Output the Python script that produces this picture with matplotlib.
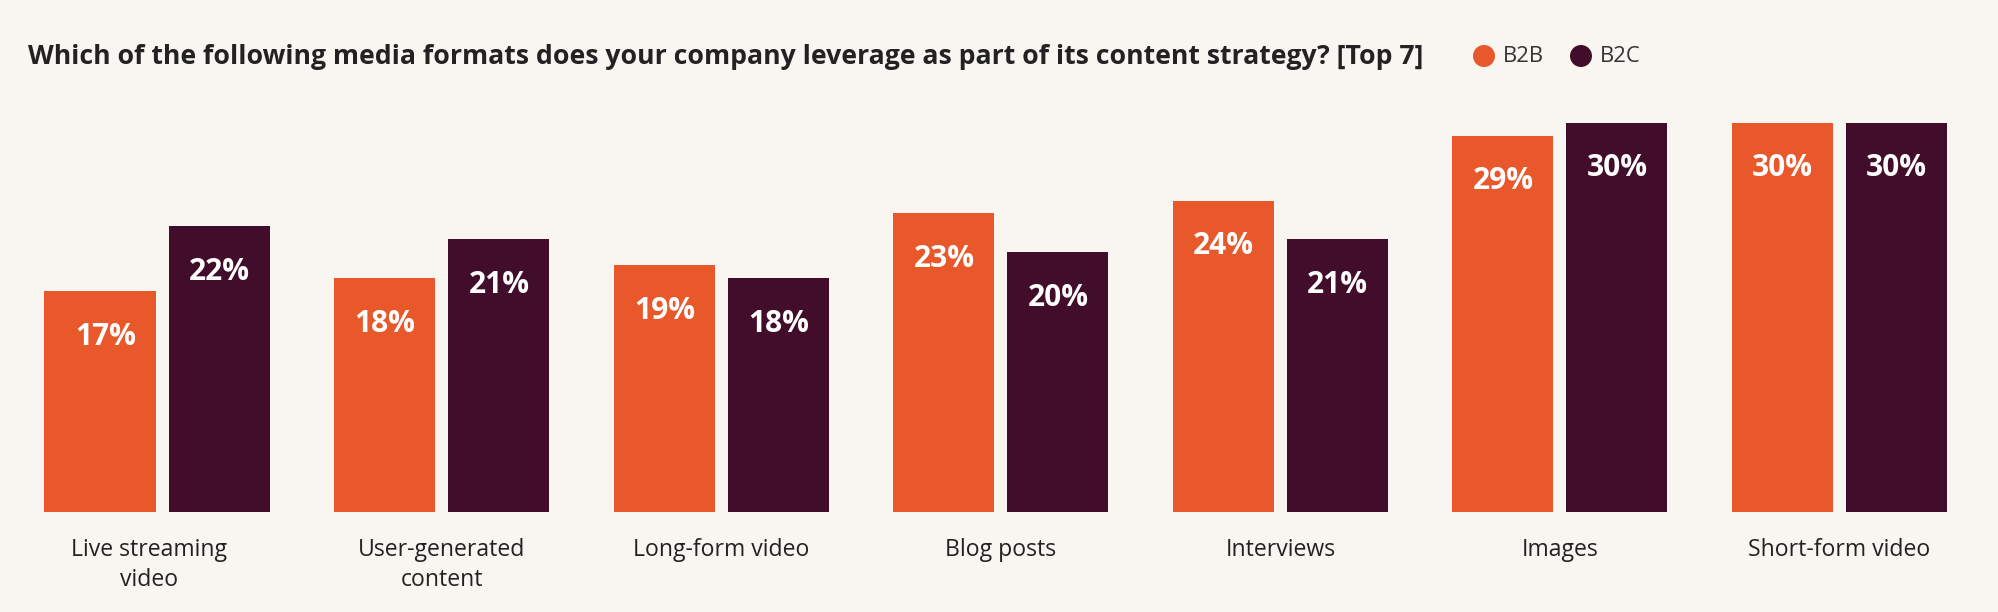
import matplotlib
matplotlib.use("Agg")
import matplotlib.pyplot as plt
from matplotlib.patches import Ellipse

categories = ["Live streaming\nvideo", "User-generated\ncontent", "Long-form video",
              "Blog posts", "Interviews", "Images", "Short-form video"]
b2b = [17, 18, 19, 23, 24, 29, 30]
b2c = [22, 21, 18, 20, 21, 30, 30]
series_names = ["B2B", "B2C"]
title = "Which of the following media formats does your company leverage as part of its content strategy? [Top 7]"

ORANGE = "#E8582A"
PLUM = "#420D2A"
BG = "#F9F6F1"
TEXT = "#222222"
FONT = "Open Sans"

W, H = 1999, 612
fig = plt.figure(figsize=(W / 100, H / 100), dpi=100, facecolor=BG)
renderer = fig.canvas.get_renderer()


def fit(t, target_px):
    bb = t.get_window_extent(renderer=renderer)
    t.set_fontsize(t.get_fontsize() * target_px / bb.width)


base_px, top_px = 511.7, 122.7
c0, step = 162.5, 279.5
ax = fig.add_axes([0, (H - base_px) / H, 1, (base_px - top_px) / H])
ax.set_facecolor(BG)
ax.set_xlim(-c0 / step, (W - c0) / step)
ax.set_ylim(0, 30)
ax.axis("off")

bw = 101 / step
off = 57 / step
x = list(range(len(categories)))
ppu = (base_px - top_px) / 30.0

# layout tweaks (pixels) seen in the reference: first orange bar extends further left,
# first label sits slightly left of its group centre
left_ext = [11, 0, 0, 0, 0, 0, 0]
label_dx = [-13.5, 0, 0, 0, 0, 0, 0]

for vals, sign, col in [(b2b, -1, ORANGE), (b2c, 1, PLUM)]:
    xs = [i + sign * off for i in x]
    if sign < 0:
        widths = [bw + e / step for e in left_ext]
        lefts = [xi - bw / 2 - e / step for xi, e in zip(xs, left_ext)]
    else:
        widths = [bw] * len(xs)
        lefts = [xi - bw / 2 for xi in xs]
    ax.bar(lefts, vals, width=widths, align="edge", color=col, linewidth=0, clip_on=False)
    for xi, v in zip(xs, vals):
        ax.text(xi, v - 45.5 / ppu, f"{v}%", ha="center", va="center",
                color="white", fontsize=21.5, fontweight="bold", family=FONT)

# category labels
probe = ax.text(0, 0, "Live streaming", fontsize=14, family=FONT)
fit(probe, 157)
lab_fs = probe.get_fontsize()
probe.remove()
for i, lab, dx in zip(x, categories, label_dx):
    for k, line in enumerate(lab.split("\n")):
        ax.text(i + dx / step, -(549.5 + 31 * k - base_px) / ppu, line, ha="center",
                va="center", color=TEXT, fontsize=lab_fs, family=FONT, clip_on=False)

t = fig.text(28 / W, 1 - 57 / H, title, ha="left", va="center", fontsize=17,
             fontweight="bold", color=TEXT, family=FONT)
fit(t, 1396)

# legend
for cx, col, name in [(1484, ORANGE, series_names[0]), (1581, PLUM, series_names[1])]:
    e = Ellipse((cx / W, 1 - 56 / H), 22 / W, 22 / H, transform=fig.transFigure,
                facecolor=col, edgecolor="none")
    fig.patches.append(e)
    lt = fig.text((cx + 19) / W, 1 - 56 / H, name, ha="left", va="center",
                  fontsize=14, color="#333333", family=FONT)
    fit(lt, 41)

fig.savefig("out.png", dpi=100, facecolor=BG)
